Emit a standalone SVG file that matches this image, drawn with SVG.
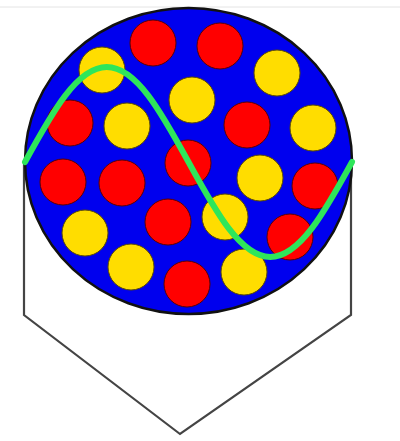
<svg xmlns="http://www.w3.org/2000/svg" width="400" height="441" viewBox="0 0 400 441">
<style>
.r{fill:#ff0000;stroke:#5a0000;stroke-width:1}
.y{fill:#ffdd00;stroke:#5a4a00;stroke-width:1}
</style>
<rect width="400" height="441" fill="#ffffff"/>
<line x1="0" y1="7" x2="400" y2="7" stroke="#e4e4e4" stroke-width="1"/>
<g id="frame">
<polyline points="24,162 24,315 180,434 351,315 351,162" fill="none" stroke="#444444" stroke-width="2.2" stroke-linejoin="miter"/>
</g>
<g id="disc">
<ellipse cx="188.5" cy="161" rx="163.5" ry="153" fill="#0000ee" stroke="#111111" stroke-width="2.5"/>
</g>
<g id="dots">
<circle class="r" cx="153" cy="43" r="23"/>
<circle class="r" cx="220" cy="46" r="23"/>
<circle class="r" cx="70" cy="123" r="23"/>
<circle class="r" cx="247" cy="125" r="23"/>
<circle class="r" cx="188" cy="163" r="23"/>
<circle class="r" cx="63" cy="182" r="23"/>
<circle class="r" cx="122" cy="183" r="23"/>
<circle class="r" cx="315" cy="186" r="23"/>
<circle class="r" cx="168" cy="222" r="23"/>
<circle class="r" cx="290" cy="237" r="23"/>
<circle class="r" cx="187" cy="284" r="23"/>
<circle class="y" cx="102" cy="70" r="23"/>
<circle class="y" cx="277" cy="73" r="23"/>
<circle class="y" cx="192" cy="100" r="23"/>
<circle class="y" cx="127" cy="126" r="23"/>
<circle class="y" cx="313" cy="128" r="23"/>
<circle class="y" cx="260" cy="178" r="23"/>
<circle class="y" cx="225" cy="217" r="23"/>
<circle class="y" cx="85" cy="233" r="23"/>
<circle class="y" cx="131" cy="267" r="23"/>
<circle class="y" cx="244" cy="272" r="23"/>
</g>
<g id="wave">
<path d="M25,162 C52.2,112.2 77.3,67 106.75,67 C136.2,67 161.3,112.2 188.5,162 C215.7,211.8 240.8,257 270.25,257 C299.7,257 324.8,211.8 352,162" fill="none" stroke="#2ee65a" stroke-width="6" stroke-linecap="round"/>
</g>
</svg>
